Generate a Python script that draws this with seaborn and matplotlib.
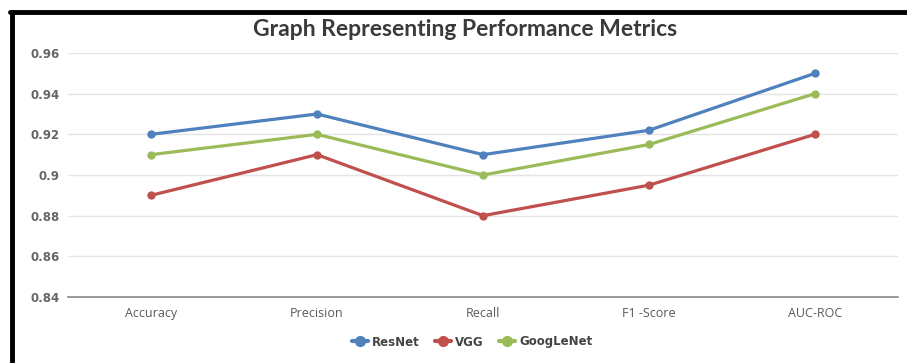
import matplotlib
matplotlib.use("Agg")
import matplotlib.pyplot as plt
import seaborn as sns
import pandas as pd
from matplotlib.lines import Line2D

categories = ["Accuracy", "Precision", "Recall", "F1 -Score", "AUC-ROC"]
resnet = [0.92, 0.93, 0.91, 0.922, 0.95]
vgg = [0.89, 0.91, 0.88, 0.895, 0.92]
googlenet = [0.91, 0.92, 0.90, 0.915, 0.94]
series_names = ["ResNet", "VGG", "GoogLeNet"]
yticks = [0.84, 0.86, 0.88, 0.9, 0.92, 0.94, 0.96]
ytick_labels = ["0.84", "0.86", "0.88", "0.9", "0.92", "0.94", "0.96"]

rows = []
for name, vals in zip(series_names, [resnet, vgg, googlenet]):
    for i, (c, v) in enumerate(zip(categories, vals)):
        rows.append({"idx": i, "Metric": c, "Value": v, "Model": name})
df = pd.DataFrame(rows)

colors = {"ResNet": "#4F81BD", "VGG": "#C0504D", "GoogLeNet": "#9BBB59"}

sns.set_theme(style="white")
plt.rcParams["font.family"] = ["Lato", "DejaVu Sans"]

fig = plt.figure(figsize=(9.07, 3.63), dpi=100)
ax = fig.add_axes([68/907, 1 - 297/363, 830/907, (297-53)/363])

sns.lineplot(data=df, x="idx", y="Value", hue="Model", palette=colors,
             marker="o", markersize=6, markeredgewidth=0, linewidth=2.3,
             ax=ax, legend=False, zorder=3)

ax.set_xlim(-0.5, 4.5)
ax.set_ylim(0.84, 0.96)
ax.set_yticks(yticks)
ax.set_yticklabels(ytick_labels, fontfamily="DejaVu Sans", fontweight="bold",
                   fontsize=8.5, color="#666666")
ax.set_xticks(range(len(categories)))
ax.set_xticklabels(categories, fontfamily="Open Sans", fontsize=9, color="#595959")
ax.set_xlabel("")
ax.set_ylabel("")
ax.grid(axis="y", color="#E4E4E4", linewidth=1)
ax.set_axisbelow(True)
for s in ["top", "right", "left"]:
    ax.spines[s].set_visible(False)
ax.spines["bottom"].set_color("#888888")
ax.spines["bottom"].set_linewidth(1.2)
ax.tick_params(axis="both", length=0)
ax.tick_params(axis="y", pad=6)
ax.tick_params(axis="x", pad=7)

fig.text(465/907, 1 - 29/363, "Graph Representing Performance Metrics",
         ha="center", va="center", fontsize=16.5, fontweight="bold", color="#3a3a3a")

handles = [Line2D([0], [0], color=colors[n], marker="o", markersize=7, linewidth=3)
           for n in series_names]
fig.legend(handles, series_names, loc="center", bbox_to_anchor=(472/907, 1 - 342/363),
           ncol=3, frameon=False, handlelength=1.4, columnspacing=1.3,
           handletextpad=0.3,
           prop={"family": "DejaVu Sans", "weight": "bold", "size": 8.5},
           labelcolor="#444444")

# Black frame (left and top visible)
fig.add_artist(Line2D([12/907, 12/907], [0, 1 - 12/363], color="black", linewidth=3.5,
                      transform=fig.transFigure))
fig.add_artist(Line2D([10/907, 1], [1 - 12/363, 1 - 12/363], color="black", linewidth=3.5,
                      transform=fig.transFigure))

fig.savefig("out.png", dpi=100, facecolor="white")
